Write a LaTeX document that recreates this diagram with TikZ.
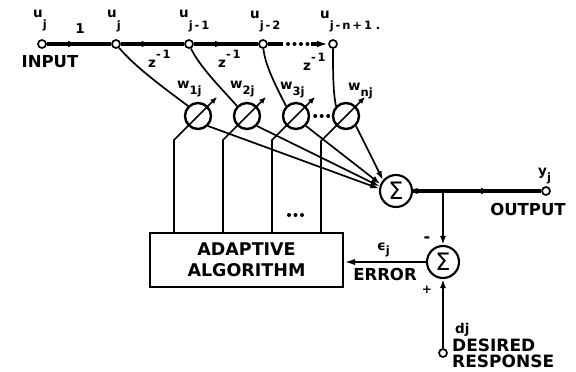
\documentclass[tikz,border=0pt]{standalone}
\usepackage{fontspec}
\setmainfont{DejaVu Sans}
\usetikzlibrary{arrows.meta,decorations.markings,calc}
\newcommand\lo[2]{\raisebox{-#1pt}{\fontsize{11.5}{11.5}\selectfont #2}}
\newcommand\hi[2]{\raisebox{#1pt}{\fontsize{11.5}{11.5}\selectfont #2}}
\begin{document}
\begin{tikzpicture}[x=1pt,y=-1pt,
  tap/.style={circle,draw,fill=white,line width=1.7pt,inner sep=0pt,minimum size=8pt},
  wt/.style={circle,draw,line width=2.4pt,inner sep=0pt,minimum size=26pt},
  sig/.style={circle,draw,line width=2.1pt,inner sep=0pt,minimum size=32pt,font=\fontsize{24}{24}\selectfont},
  bus/.style={line width=3.3pt},
  wire/.style={line width=1.7pt},
  lbl/.style={inner sep=0pt,anchor=base west,font=\fontsize{13.5}{13.5}\selectfont\bfseries},
  captext/.style={inner sep=0pt,anchor=base,font=\fontsize{16.5}{16.5}\selectfont\bfseries},
  tipA/.tip={Latex[length=11pt,width=6.5pt]},
  tipB/.tip={Latex[length=9pt,width=6pt]},
  tipC/.tip={Latex[length=7pt,width=6pt]},
  midarrow/.style={postaction={decorate},decoration={markings,mark=at position #1 with {\arrow{tipA}}}},
  dotline/.style={line width=4pt,line cap=round,dash pattern=on 0pt off 6.5pt}
]
\fill[white] (0,0) rectangle (576,372);
\useasboundingbox (0,0) rectangle (576,372);

% tap nodes
\node[tap] (in) at (42,44) {};
\node[tap] (t0) at (116,44) {};
\node[tap] (t1) at (189,44) {};
\node[tap] (t2) at (263,44) {};
\node[tap] (tn) at (333,44) {};
\coordinate (d1) at (283,44);
\coordinate (d2) at (311,44);

% bus
\draw[bus,midarrow=0.5] (in) -- (t0);
\draw[bus,midarrow=0.5] (t0) -- (t1);
\draw[bus,midarrow=0.5] (t1) -- (t2);
\draw[bus] (t2) -- (d1);
\draw[dotline] ($(d1)+(5,0)$) -- (d2);
\draw[bus,-tipA] (d2) -- (tn);

% weights
\node[wt] (w1) at (198,116) {};
\node[wt] (w2) at (247,116) {};
\node[wt] (w3) at (296,116) {};
\node[wt] (wn) at (346,116) {};
\draw[dotline] ($(w3.east)+(5,0)$) -- ($(wn.west)+(-3,0)$);

% summers
\node[sig] (s1) at (396,191) {Σ};
\node[sig] (s2) at (443,262) {Σ};
\node[tap] (out) at (546,191) {};
\node[tap] (dj) at (443,353) {};

% adaptive algorithm box
\node[draw,line width=2.4pt,minimum width=193pt,minimum height=54pt,align=center,
      font=\fontsize{17.5}{21}\selectfont\bfseries,inner sep=0pt] (alg) at (246.5,260) {ADAPTIVE\\ALGORITHM};

% taps to weights
\draw[wire] (t0) .. controls ($(t0)+(18,22)$) and ($(w1.north west)+(-24,-18)$) .. (w1.north west);
\draw[wire] (t1) .. controls ($(t1)+(10,22)$) and ($(w2.north west)+(-16,-18)$) .. (w2.north west);
\draw[wire] (t2) .. controls ($(t2)+(2,22)$) and ($(w3.north west)+(-8,-16)$) .. (w3.north west);
\draw[wire] (tn) .. controls ($(tn)+(0,26)$) and ($(wn.north west)+(-3,-14)$) .. (wn.north west);

% adjustable weight arrows and control lines
\foreach \w/\d in {w1/14,w2/14,w3/14,wn/15}{
  \draw[wire,-tipC] (\w.south west) -- ($(\w.center)!1.9!(\w.north east)$);
  \draw[wire] (\w.south west) -- ++(-\d,\d) coordinate (c\w) -- (c\w |- alg.north);
}
\draw[dotline] (289,215) -- (305,215);

% weights to summer
\draw[wire,-tipB] (w1.south east) -- (s1.172);
\draw[wire,-tipB] (w2.south east) -- (s1.164);
\draw[wire,-tipB] (w3.south east) -- (s1.156);
\draw[wire,-tipB] (wn.south east) -- (s1.140);

% output and error
\coordinate (jn) at (s1.east -| s2.north);
\draw[bus,midarrow=0.45] (s1) -- (jn);
\draw[bus,midarrow=0.5] (jn) -- (out);
\draw[line width=2pt,-tipB] (jn) -- (s2);
\draw[line width=2pt,-tipB] (dj) -- (s2);
\draw[line width=2.8pt,-tipA] (s2) -- (s2 -| alg.east);

% labels
\node[lbl] (lu0) at (33,17) {u\lo{11}{j}};
\node[lbl] (lu1) at (107,17) {u\lo{12}{j}};
\node[lbl] (lu2) at (179,17) {u\lo{12}{j\,-\,1}};
\node[lbl] (lu3) at (250,18) {u\lo{12}{j\,-\,2}};
\node[lbl] (lu4) at (320,18) {u\lo{12}{j\,-\,n\,+\,1\,\,.}};
\node[lbl,anchor=base] (lone) at (80,33) {1};
\node[lbl] (lz1) at (148,67) {z\hi{9}{-\,1}};
\node[lbl] (lz2) at (218,67) {z\hi{9}{-\,1}};
\node[lbl] (lz3) at (303,70) {z\hi{9}{-\,1}};
\node[lbl] (lw1) at (177,88) {w\lo{6}{1j}};
\node[lbl] (lw2) at (230,88) {w\lo{6}{2j}};
\node[lbl] (lw3) at (280,89) {w\lo{6}{3j}};
\node[lbl] (lwn) at (348,90) {w\lo{6}{nj}};
\node[lbl] (ly) at (538,175) {y\lo{6}{j}};
\node[lbl] (le) at (377,250) {ϵ\lo{4}{j}};
\node[lbl] (ld) at (455,333) {dj};
\node[captext] (linput) at (50,67) {INPUT};
\node[captext] (loutput) at (528,215) {OUTPUT};
\node[captext] (lerror) at (385,280) {ERROR};
\node[captext,anchor=base west,font=\fontsize{17}{17}\selectfont\bfseries] (ldes) at (452,351) {DESIRED};
\node[captext,anchor=base west,font=\fontsize{17}{17}\selectfont\bfseries] (lresp) at (452,367.5) {RESPONSE};
\node[font=\fontsize{16}{16}\selectfont\bfseries,inner sep=0pt] (lminus) at (427,240) {-};
\node[font=\fontsize{12}{12}\selectfont\bfseries,inner sep=0pt] (lplus) at (427,290) {+};
\end{tikzpicture}
\end{document}
